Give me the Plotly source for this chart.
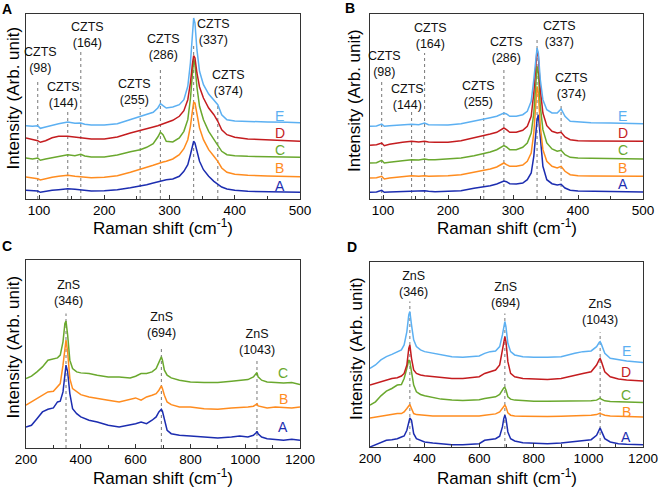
import plotly.graph_objects as go

# ---------------- DATA ----------------
# Panel A / B (CZTS region)
ab_x = [80, 90, 98, 102, 110, 120, 130, 144, 155, 164, 170, 180, 200, 220, 240, 255, 265, 275, 282, 286,
        290, 295, 305, 315, 322, 328, 332, 335, 337, 339, 342, 346, 352, 360, 368, 374, 380, 388, 400, 420,
        450, 480, 500]

a_A = [8.7, 8.3, 8.0, 6.7, 7.7, 8.7, 9.3, 10.3, 9.7, 9.0, 8.3, 8.0, 8.3, 9.3, 11.3, 12.7, 14.3, 16.0, 17.3, 18.3,
       19.0, 19.3, 20.0, 22.7, 27.7, 34.3, 44.3, 53.3, 57.7, 56.0, 47.7, 37.7, 29.3, 22.7, 17.7, 15.0, 12.0, 10.0, 8.7, 7.7,
       7.3, 7.0, 6.7]
a_B = [22.0, 21.0, 20.3, 19.0, 20.3, 21.7, 22.7, 23.7, 22.7, 22.3, 21.7, 21.3, 21.7, 23.3, 26.7, 29.3, 31.7, 33.7, 35.3, 36.7,
       37.0, 37.7, 40.0, 44.3, 50.3, 59.3, 72.7, 87.7, 96.7, 96.0, 84.3, 71.0, 59.3, 49.3, 42.7, 37.7, 31.0, 26.7, 24.7, 23.7,
       23.0, 22.7, 22.3]
a_C = [41.0, 40.0, 41.0, 38.7, 40.0, 41.3, 42.7, 44.3, 43.3, 44.7, 43.0, 42.0, 42.0, 44.0, 47.3, 49.3, 51.7, 55.3, 62.0, 66.7,
       64.3, 57.7, 57.0, 61.0, 67.7, 79.3, 100.0, 125.0, 140.0, 134.0, 112.0, 92.7, 79.3, 67.7, 59.3, 54.3, 47.7, 44.3, 43.3, 42.7,
       42.3, 42.0, 41.7]
a_D = [61.0, 59.3, 58.3, 56.7, 58.3, 61.3, 62.7, 62.7, 61.7, 61.3, 60.7, 60.0, 60.0, 62.0, 66.0, 68.3, 70.0, 72.0, 73.3, 74.3,
       75.0, 76.0, 78.7, 82.7, 88.3, 99.3, 116.0, 134.3, 143.3, 141.0, 126.0, 112.0, 101.0, 91.0, 84.3, 77.7, 69.3, 64.3, 61.7, 60.0,
       59.0, 58.3, 57.7]
a_E = [73.3, 72.7, 73.3, 70.7, 72.0, 74.0, 75.3, 77.0, 75.7, 76.0, 74.7, 74.0, 74.0, 75.3, 79.3, 82.7, 84.0, 86.7, 91.0, 95.3,
       93.3, 91.0, 92.0, 94.3, 99.3, 112.7, 136.0, 162.7, 181.0, 176.0, 149.3, 127.7, 114.3, 105.0, 99.3, 94.3, 84.3, 79.3, 78.0, 77.3,
       77.0, 76.7, 76.3]

b_A = [6.7, 7.0, 8.7, 6.7, 7.0, 7.3, 7.7, 8.0, 7.7, 8.3, 7.7, 7.3, 7.7, 8.3, 10.7, 12.0, 13.3, 15.0, 17.0, 18.0,
       17.3, 15.3, 15.0, 16.0, 19.3, 26.0, 42.7, 66.0, 79.3, 84.3, 59.3, 32.7, 19.3, 15.3, 14.0, 14.7, 11.0, 8.7, 8.0, 7.7,
       7.3, 7.0, 7.0]
b_B = [21.0, 21.3, 22.7, 20.0, 21.0, 21.7, 22.3, 23.3, 22.7, 23.3, 22.7, 22.7, 23.3, 24.3, 26.7, 28.7, 30.0, 32.0, 34.3, 36.0,
       34.3, 32.7, 32.7, 34.0, 37.7, 46.0, 66.0, 92.7, 112.7, 106.0, 72.7, 49.3, 37.7, 32.7, 31.0, 32.7, 27.7, 24.3, 23.3, 23.0,
       22.7, 22.7, 22.7]
b_C = [36.0, 36.3, 38.7, 36.0, 36.7, 37.7, 38.3, 39.3, 39.0, 40.0, 39.3, 39.3, 40.0, 41.0, 43.3, 45.3, 47.0, 49.3, 51.7, 53.3,
       52.0, 49.3, 49.3, 51.7, 56.0, 66.0, 86.0, 116.0, 132.7, 126.0, 92.7, 69.3, 56.0, 50.0, 47.7, 48.7, 44.3, 41.7, 41.0, 40.7,
       40.3, 40.0, 40.0]
b_D = [53.7, 54.3, 56.0, 53.3, 54.7, 56.0, 56.7, 57.7, 57.0, 57.7, 57.0, 56.7, 56.7, 58.3, 61.0, 63.3, 65.0, 66.7, 69.0, 71.0,
       69.3, 66.7, 66.7, 68.7, 72.7, 82.7, 106.0, 132.7, 149.3, 142.7, 109.3, 86.0, 73.3, 67.7, 66.0, 66.7, 62.0, 59.3, 58.3, 58.0,
       57.7, 57.7, 57.7]
b_E = [72.7, 73.0, 75.0, 72.7, 73.3, 73.7, 74.0, 74.7, 74.3, 76.0, 74.3, 74.0, 74.0, 75.3, 77.7, 80.0, 81.3, 82.7, 84.3, 86.0,
       85.0, 82.7, 82.7, 84.3, 87.7, 97.7, 119.3, 142.7, 151.0, 146.0, 119.3, 99.3, 89.3, 86.0, 86.0, 90.0, 82.7, 77.7, 77.0, 76.3,
       76.0, 75.7, 75.3]

# Panel C / D (ZnS region)
cd_x = [200, 220, 240, 260, 280, 300, 315, 325, 335, 342, 346, 352, 360, 370, 385, 400, 430, 460, 500, 540,
        580, 600, 620, 640, 660, 675, 685, 690, 694, 698, 705, 715, 730, 760, 800, 850, 900, 950, 980, 1010,
        1030, 1040, 1043, 1047, 1060, 1080, 1110, 1140, 1170, 1200]

c_A = [21.0, 22.7, 29.3, 36.0, 38.7, 40.0, 46.0, 46.7, 56.0, 78.7, 82.7, 76.0, 54.3, 39.3, 34.3, 31.0, 27.7, 26.0, 22.7, 21.0,
       22.7, 24.3, 26.0, 24.3, 27.7, 31.0, 36.0, 38.0, 38.7, 36.7, 27.7, 17.7, 14.3, 12.7, 12.0, 11.0, 10.0, 11.0, 12.0, 11.0,
       12.7, 15.3, 16.7, 14.3, 11.0, 9.3, 8.7, 7.7, 8.7, 7.7]
c_B = [42.7, 46.0, 49.3, 52.7, 56.0, 56.7, 61.0, 64.3, 82.7, 102.7, 107.7, 96.0, 69.3, 59.3, 56.0, 53.3, 51.0, 49.3, 47.7, 46.0,
       48.7, 50.0, 47.7, 51.0, 52.7, 54.3, 57.7, 60.0, 62.0, 59.3, 52.7, 46.0, 43.3, 41.0, 41.0, 39.3, 38.7, 40.0, 40.3, 41.0,
       41.7, 43.3, 44.0, 42.0, 41.0, 40.0, 41.0, 40.3, 40.0, 41.0]
c_C = [69.3, 71.7, 76.0, 81.0, 87.7, 89.3, 90.0, 92.7, 106.0, 124.3, 126.7, 112.7, 87.7, 79.3, 76.0, 75.0, 74.3, 72.7, 71.0, 71.0,
       70.0, 71.7, 74.3, 74.3, 76.0, 79.3, 86.0, 90.0, 91.0, 87.7, 77.7, 72.7, 70.0, 67.7, 66.0, 65.3, 65.3, 66.7, 67.7, 68.3,
       71.0, 74.3, 75.3, 71.0, 67.7, 66.0, 65.3, 65.0, 65.3, 63.3]

d_A = [0.0, 2.3, 5.0, 6.7, 7.3, 8.3, 10.0, 11.0, 16.7, 25.7, 29.0, 26.7, 13.3, 8.3, 6.7, 5.0, 4.0, 3.0, 2.3, 2.3,
       2.7, 3.3, 6.7, 7.3, 8.3, 10.7, 20.0, 28.3, 31.7, 28.3, 15.0, 8.3, 6.0, 4.3, 3.7, 3.3, 4.0, 5.7, 6.7, 7.3,
       11.7, 17.7, 19.0, 16.3, 8.3, 5.0, 3.3, 2.7, 2.7, 2.3]
d_B = [29.0, 30.0, 31.0, 31.7, 32.3, 33.3, 33.3, 35.0, 38.3, 41.7, 42.3, 38.3, 33.3, 32.3, 32.3, 31.7, 31.0, 31.0, 30.7, 30.7,
       31.0, 31.0, 31.7, 32.3, 33.0, 35.0, 38.3, 40.7, 41.7, 40.0, 34.0, 31.7, 31.0, 30.7, 30.3, 30.3, 30.7, 31.0, 31.3, 31.7,
       32.3, 33.3, 33.7, 33.0, 31.7, 31.0, 30.7, 30.3, 30.3, 30.0]
d_C = [41.7, 45.0, 51.0, 55.7, 58.3, 61.7, 62.3, 68.3, 78.3, 86.7, 85.0, 73.3, 61.7, 55.0, 52.3, 51.0, 49.0, 47.7, 46.7, 46.3,
       46.7, 47.0, 48.3, 49.0, 50.0, 52.3, 56.7, 59.0, 59.3, 56.7, 50.0, 47.7, 46.7, 46.0, 45.7, 45.7, 45.7, 46.0, 46.0, 46.0,
       46.7, 48.3, 48.7, 47.7, 46.0, 45.3, 45.0, 44.7, 44.7, 44.3]
d_D = [61.7, 63.3, 65.0, 66.7, 68.3, 69.0, 70.7, 73.3, 81.7, 98.3, 101.7, 88.3, 76.7, 73.3, 71.7, 71.0, 70.0, 69.0, 68.3, 68.3,
       69.0, 70.0, 73.3, 75.0, 76.7, 81.7, 95.0, 105.0, 110.0, 105.0, 85.0, 73.3, 70.0, 68.3, 67.7, 67.3, 68.3, 71.7, 73.3, 75.0,
       81.7, 87.3, 88.3, 85.7, 75.0, 70.0, 67.7, 66.7, 66.0, 65.7]
d_E = [78.3, 81.7, 86.7, 90.0, 92.3, 95.0, 96.7, 101.7, 115.0, 131.7, 135.0, 121.7, 106.7, 100.0, 96.7, 95.0, 93.3, 91.7, 90.0, 89.3,
       90.0, 90.7, 93.3, 95.0, 95.7, 100.0, 111.7, 121.7, 125.0, 120.0, 103.3, 95.0, 91.7, 90.0, 89.3, 89.3, 90.0, 93.3, 95.0, 95.7,
       100.0, 104.3, 105.0, 102.7, 93.3, 88.3, 86.7, 85.7, 85.0, 84.3]

sample_names = ["A", "B", "C", "D", "E"]
colors = ["#1c2db0", "#ff8c1f", "#6aa82e", "#c41c1f", "#5cb0f2"]

czts_peaks = [98, 144, 164, 255, 286, 337, 374]
czts_labels = ["CZTS<br>(98)", "CZTS<br>(144)", "CZTS<br>(164)", "CZTS<br>(255)",
               "CZTS<br>(286)", "CZTS<br>(337)", "CZTS<br>(374)"]
zns_peaks = [346, 694, 1043]
zns_labels = ["ZnS<br>(346)", "ZnS<br>(694)", "ZnS<br>(1043)"]

x_title = "Raman shift (cm<sup>-1</sup>)"
y_title = "Intensity (Arb. unit)"

# ---------------- LAYOUT GEOMETRY (pixels of 659x491 canvas) ----------------
W, H = 659, 491
def px_dom(x0, x1):
    return [x0 / W, x1 / W]
def py_dom(ytop, ybot):
    return [1 - ybot / H, 1 - ytop / H]

panels = [
    dict(key="", xd=px_dom(26, 300), yd=py_dom(14, 199), xr=[80, 500], yr=[0, 185], dt=100, mdt=50),
    dict(key="2", xd=px_dom(370, 643), yd=py_dom(14, 199), xr=[80, 500], yr=[0, 185], dt=100, mdt=50),
    dict(key="3", xd=px_dom(26, 300), yd=py_dom(260, 448), xr=[200, 1200], yr=[0, 187.7], dt=200, mdt=100),
    dict(key="4", xd=px_dom(370, 643), yd=py_dom(262, 447), xr=[200, 1200], yr=[0, 184.3], dt=200, mdt=100),
]

FONT = "Liberation Sans, Arial, sans-serif"
fig = go.Figure()

def add_curves(panel_idx, xs, series, names):
    k = panels[panel_idx]["key"]
    for ys, nm in zip(series, names):
        ci = sample_names.index(nm)
        fig.add_trace(go.Scatter(x=xs, y=ys, mode="lines", xaxis="x" + k, yaxis="y" + k,
                                 line=dict(color=colors[ci], width=1.5), showlegend=False,
                                 hoverinfo="skip"))

add_curves(0, ab_x, [a_A, a_B, a_C, a_D, a_E], ["A", "B", "C", "D", "E"])
add_curves(1, ab_x, [b_A, b_B, b_C, b_D, b_E], ["A", "B", "C", "D", "E"])
add_curves(2, cd_x, [c_A, c_B, c_C], ["A", "B", "C"])
add_curves(3, cd_x, [d_A, d_B, d_C, d_D, d_E], ["A", "B", "C", "D", "E"])

layout = dict(width=W, height=H, margin=dict(l=0, r=0, t=0, b=0, autoexpand=False),
              paper_bgcolor="white", plot_bgcolor="white",
              font=dict(family=FONT, size=14, color="black"))
for p in panels:
    k = p["key"]
    layout["xaxis" + k] = dict(domain=p["xd"], range=p["xr"], anchor="y" + k,
                               showline=True, linecolor="#333", linewidth=1, mirror=True,
                               ticks="inside", ticklen=4, tickcolor="#333", dtick=p["dt"], tick0=0,
                               minor=dict(dtick=p["mdt"], ticks="inside", ticklen=3, tickcolor="#333"),
                               showgrid=False, zeroline=False, ticklabelstandoff=-1,
                               ticklabeloverflow="allow", automargin=False,
                               tickfont=dict(size=13.5, family=FONT, color="black"))
    layout["yaxis" + k] = dict(domain=p["yd"], range=p["yr"], anchor="x" + k,
                               showline=True, linecolor="#333", linewidth=1, mirror=True, automargin=False,
                               ticks="", showticklabels=False, showgrid=False, zeroline=False)
fig.update_layout(**layout)

shapes = []
annotations = []

# peak reference lines and labels
czts_line_top_a = [120, 87, 149, 91, 132, 154, 96]
czts_lab_x_a = [102.5, 138, 174, 247, 290.5, 368, 390]
czts_lab_y_a = [139, 104, 164.5, 107.5, 152.5, 167, 116]
czts_line_top_b = [119, 87, 146, 89, 129, 160, 94]
czts_lab_x_b = [102.5, 137, 173.5, 246.5, 290, 372, 390]
czts_lab_y_b = [135.5, 102, 163, 105, 149, 165, 113.5]

zns_line_top_c = [134.3, 101, 87.7]
zns_lab_x_c = [354, 695, 1042]
zns_lab_y_c = [154.3, 122.7, 106.3]
zns_line_top_d = [145, 133, 114.3]
zns_lab_x_d = [360, 697, 1044]
zns_lab_y_d = [162.3, 151.7, 134.7]

def add_peaks(k, peaks, labels, tops, lx, ly, size):
    for pk, lb, tp, x, y in zip(peaks, labels, tops, lx, ly):
        shapes.append(dict(type="line", xref="x" + k, yref="y" + k, x0=pk, x1=pk, y0=0, y1=tp,
                           line=dict(color="#777", width=1, dash="dot"), layer="below"))
        annotations.append(dict(x=x, y=y, xref="x" + k, yref="y" + k, text=lb, showarrow=False,
                                xanchor="center", yanchor="middle",
                                font=dict(size=size, family=FONT, color="#111")))

add_peaks("", czts_peaks, czts_labels, czts_line_top_a, czts_lab_x_a, czts_lab_y_a, 12.5)
add_peaks("2", czts_peaks, czts_labels, czts_line_top_b, czts_lab_x_b, czts_lab_y_b, 12.5)
add_peaks("3", zns_peaks, zns_labels, zns_line_top_c, zns_lab_x_c, zns_lab_y_c, 12.5)
add_peaks("4", zns_peaks, zns_labels, zns_line_top_d, zns_lab_x_d, zns_lab_y_d, 12.5)

# series letter labels
ser_lab = [
    ("", 469, ["A", "B", "C", "D", "E"], [12.7, 31, 49.3, 66, 82.7]),
    ("2", 469, ["A", "B", "C", "D", "E"], [15, 31, 49.3, 66, 82.7]),
    ("3", 1139, ["A", "B", "C"], [21, 49.3, 75.3]),
    ("4", 1139, ["A", "B", "C", "D", "E"], [10, 35, 51.5, 74.3, 95.7]),
]
for k, x, names, ys in ser_lab:
    for nm, y in zip(names, ys):
        annotations.append(dict(x=x, y=y, xref="x" + k, yref="y" + k, text=nm, showarrow=False,
                                xanchor="center", yanchor="middle", borderpad=0,
                                font=dict(size=14, family=FONT, color=colors[sample_names.index(nm)])))

# axis titles (paper placement)
for cx, by in [(163, 239), (506.5, 239), (163, 489), (506.5, 489)]:
    annotations.append(dict(x=cx / W, y=1 - by / H, xref="paper", yref="paper", text=x_title,
                            showarrow=False, xanchor="center", yanchor="bottom", borderpad=0,
                            font=dict(size=17, family=FONT, color="black")))
for cx, cy in [(12.5, 98), (354, 101), (12.5, 347), (356, 348)]:
    annotations.append(dict(x=cx / W, y=1 - cy / H, xref="paper", yref="paper", text=y_title,
                            showarrow=False, textangle=-90, xanchor="center", yanchor="middle",
                            font=dict(size=17, family=FONT, color="black")))

# panel letters
for letter, cx, cy in [("A", 7, 9), ("B", 350, 8), ("C", 7, 246), ("D", 352, 247)]:
    annotations.append(dict(x=cx / W, y=1 - cy / H, xref="paper", yref="paper", text="<b>%s</b>" % letter,
                            showarrow=False, xanchor="center", yanchor="middle",
                            font=dict(size=14, family=FONT, color="black")))

fig.update_layout(shapes=shapes, annotations=annotations)
fig.write_html("out.html",
               config={"displayModeBar": False},
               post_script="document.body.style.margin='0px';document.body.style.padding='0px';")
